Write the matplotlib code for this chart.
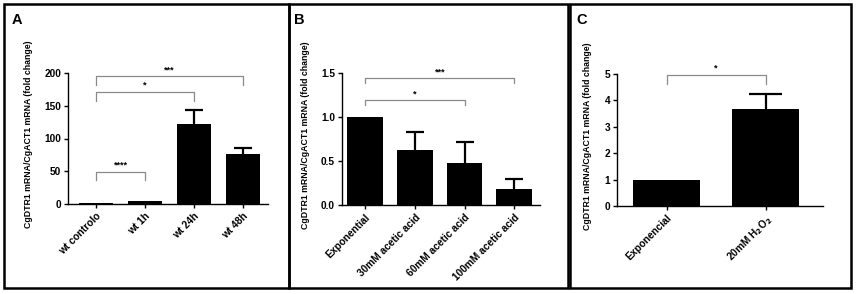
import matplotlib.pyplot as plt
from matplotlib.patches import Rectangle

plt.rcParams['font.family'] = ['Liberation Sans', 'DejaVu Sans']
plt.rcParams['font.weight'] = 'bold'

# panel A
cats_a = ["wt controlo", "wt 1h", "wt 24h", "wt 48h"]
vals_a = [1, 4, 122, 76]
err_a = [0, 0, 21, 10]
sig_a = [(0, 1, 49, "****"), (0, 2, 171, "*"), (0, 3, 195, "***")]

# panel B
cats_b = ["Exponential", "30mM acetic acid", "60mM acetic acid", "100mM acetic acid"]
vals_b = [1.0, 0.62, 0.48, 0.18]
err_b = [0, 0.21, 0.24, 0.11]
sig_b = [(0, 2, 1.195, "*"), (0, 3, 1.443, "***")]

# panel C
cats_c = ["Exponencial", "20mM H$_2$O$_2$"]
vals_c = [1.0, 3.68]
err_c = [0, 0.57]
sig_c = [(0, 1, 4.96, "*")]

W, H = 856, 294
fig = plt.figure(figsize=(W / 100, H / 100), dpi=100)


def px_axes(l, r, t, b):
    return fig.add_axes([l / W, (H - b) / H, (r - l) / W, (b - t) / H])


# panel frames
for x0, x1 in [(4, 289), (289, 568), (570, 851)]:
    fig.patches.append(Rectangle((x0 / W, (H - 288) / H), (x1 - x0) / W, (288 - 4) / H,
                                 transform=fig.transFigure, fill=False, lw=1.8,
                                 edgecolor='black'))


def panel(ax, cats, vals, errs, sigs, ylim, yticks, fmt, xlim, width, drop, lab_dx):
    x = list(range(len(cats)))
    ax.bar(x, vals, width=width, color='black')
    # upper error bars only, cap half the bar width
    for xi, v, e in zip(x, vals, errs):
        if e > 0:
            ax.plot([xi, xi], [v, v + e], color='black', lw=1.6, solid_capstyle='butt')
            ax.plot([xi - width / 4, xi + width / 4], [v + e, v + e], color='black', lw=1.6,
                    solid_capstyle='butt')
    ax.set_xlim(*xlim)
    ax.set_ylim(*ylim)
    ax.set_yticks(yticks)
    ax.set_yticklabels([fmt.format(v) for v in yticks], fontsize=7.3, fontweight='bold')
    ax.set_xticks(x)
    ax.set_xticklabels(cats, rotation=45, ha='right', rotation_mode='anchor',
                       fontsize=7.3, fontweight='bold')
    for s in ['top', 'right']:
        ax.spines[s].set_visible(False)
    for s in ['left', 'bottom']:
        ax.spines[s].set_linewidth(1.0)
    ax.tick_params(length=3, width=1.0, pad=2)
    ax.set_ylabel("CgDTR1 mRNA/CgACT1 mRNA (fold change)", fontsize=6.3, fontweight='bold')
    bb = ax.get_position()
    ax.yaxis.set_label_coords(-lab_dx / (bb.width * W), 0.53)
    for i, j, y, s in sigs:
        ax.plot([i, i, j, j], [y - drop, y, y, y - drop], color='#8a8a8a', lw=0.9,
                clip_on=False)
        ax.text((i + j) / 2, y + drop * 0.25, s, ha='center', va='bottom', fontsize=6.5,
                fontweight='bold')
    ax.patch.set_alpha(0)
    return ax


axA = px_axes(68, 268, 73, 204)
panel(axA, cats_a, vals_a, err_a, sig_a, (0, 200), [0, 50, 100, 150, 200], "{:d}",
      (-0.57, 3.51), 0.7, 13, 35)
axB = px_axes(342, 540, 73, 205)
panel(axB, cats_b, vals_b, err_b, sig_b, (0, 1.5), [0.0, 0.5, 1.0, 1.5], "{:.1f}",
      (-0.47, 3.52), 0.72, 0.055, 32)
axC = px_axes(617, 823, 74, 206)
panel(axC, cats_c, vals_c, err_c, sig_c, (0, 5), [0, 1, 2, 3, 4, 5], "{:d}",
      (-0.5, 1.58), 0.68, 0.34, 25)

for x, s in [(12, "A"), (294, "B"), (576, "C")]:
    fig.text(x / W, (H - 20) / H, s, fontsize=10.5, fontweight='bold', va='center')

fig.savefig("out.png", dpi=100)
